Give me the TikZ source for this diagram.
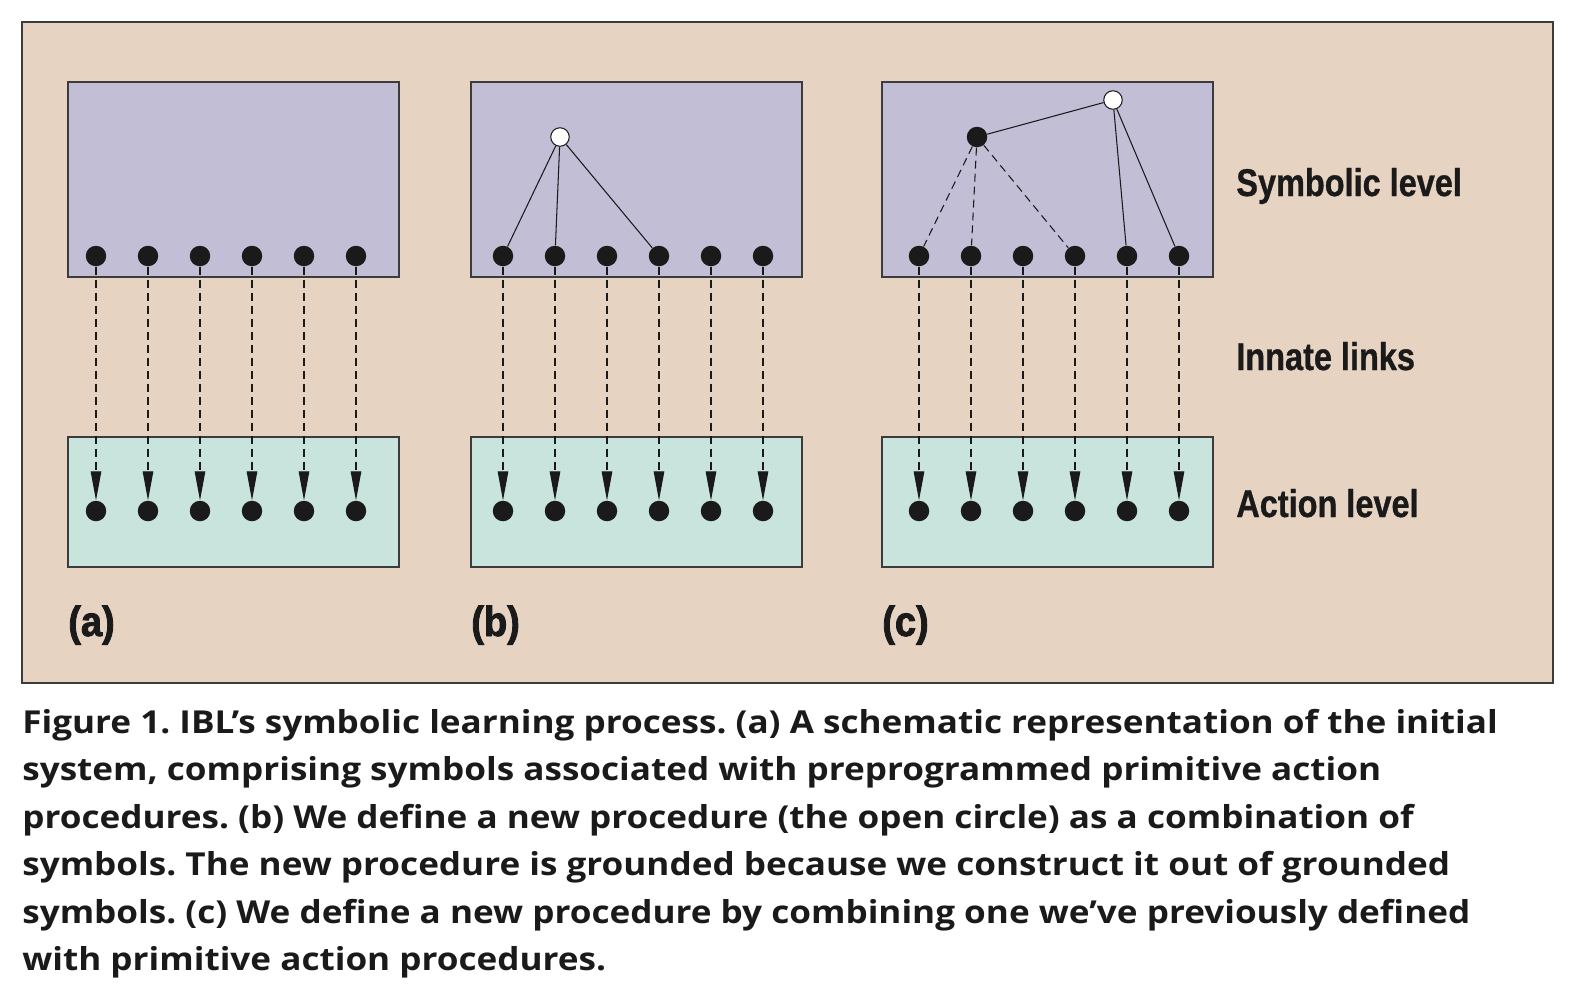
\documentclass[tikz,border=0pt]{standalone}
\usepackage{fontspec}
\setmainfont{Liberation Sans}
\newfontfamily\condfont[FakeStretch=0.84, FakeBold=0.8]{Liberation Sans}
\newfontfamily\tagfont[FakeStretch=0.9, FakeBold=2]{Liberation Sans}
\newfontfamily\capfont[FakeStretch=1.11]{Open Sans}
\usetikzlibrary{arrows.meta}
\definecolor{IBLTan}{HTML}{E6D3C2}
\definecolor{IBLPurple}{HTML}{C2BED6}
\definecolor{IBLGreen}{HTML}{C9E4DD}
\definecolor{IBLFrame}{HTML}{3C3C3C}
\definecolor{IBLInk}{HTML}{1A1A1A}

\begin{document}
\frenchspacing
\begin{tikzpicture}[
    x=0.02cm, y=-0.02cm,
    panel/.style={draw=IBLFrame, line width=0.8pt, fill=IBLTan},
    symbox/.style={
        rectangle, draw=IBLFrame, line width=0.8pt, fill=IBLPurple,
        minimum width=6.62cm, minimum height=3.9cm, inner sep=0pt
    },
    actbox/.style={
        rectangle, draw=IBLFrame, line width=0.8pt, fill=IBLGreen,
        minimum width=6.62cm, minimum height=2.6cm, inner sep=0pt
    },
    dot/.style={circle, fill=IBLInk, inner sep=0pt, minimum size=0.41cm},
    opendot/.style={
        circle, draw=IBLInk, line width=0.6pt, fill=white,
        inner sep=0pt, minimum size=0.37cm
    },
    link/.style={IBLInk, line width=0.6pt},
    dlink/.style={link, dash pattern=on 0.16cm off 0.1cm},
    innate/.style={dlink, -{Triangle[length=0.58cm, width=0.21cm]}},
    lbl/.style={
        font=\condfont\bfseries\fontsize{22}{26}\selectfont,
        text=IBLInk, inner sep=0pt, anchor=base west
    }
]

\useasboundingbox (0,0) rectangle (1580,998);
\draw[panel] (22,22) rectangle (1553,683);

% one column per stage: left edge of boxes, first dot
\foreach \p/\L/\D in {a/68/96, b/471/503, c/882/919} {
    \node[symbox] (sym\p) at (\L+165.5,179.5) {};
    \node[actbox] (act\p) at (\L+165.5,502) {};
    \foreach \i in {1,...,6} {
        \node[dot] (s\p\i) at ({\D+52*(\i-1)},256) {};
        \node[dot] (m\p\i) at ({\D+52*(\i-1)},511) {};
        \draw[innate] (s\p\i) -- (m\p\i);
    }
    \node[lbl, font=\tagfont\bfseries\fontsize{24}{28}\selectfont]
        (tag\p) at (\L,636) {(\p)};
}

% (b) new procedure
\node[opendot] (newb) at (560,137) {};
\draw[link] (newb) -- (sb1) (newb) -- (sb2) (newb) -- (sb4);

% (c) reuse of the earlier procedure
\node[dot] (oldc) at (977,137) {};
\node[opendot] (newc) at (1113,100) {};
\draw[dlink] (oldc) -- (sc1) (oldc) -- (sc2) (oldc) -- (sc4);
\draw[link] (newc) -- (oldc) (newc) -- (sc5) (newc) -- (sc6);

\node[lbl] (symlbl) at (1236,196) {Symbolic level};
\node[lbl] (innlbl) at (1236,370) {Innate links};
\node[lbl] (actlbl) at (1236,517) {Action level};

\node[anchor=north west, inner sep=0pt, align=left, text=IBLInk,
      font=\capfont\bfseries\fontsize{18}{27}\selectfont] (caption) at (22,709)
    {Figure 1. IBL’s symbolic learning process. (a) A schematic representation of the initial\\
     system, comprising symbols associated with preprogrammed primitive action\\
     procedures. (b) We define a new procedure (the open circle) as a combination of\\
     symbols. The new procedure is grounded because we construct it out of grounded\\
     symbols. (c) We define a new procedure by combining one we’ve previously defined\\
     with primitive action procedures.};

\end{tikzpicture}
\end{document}
